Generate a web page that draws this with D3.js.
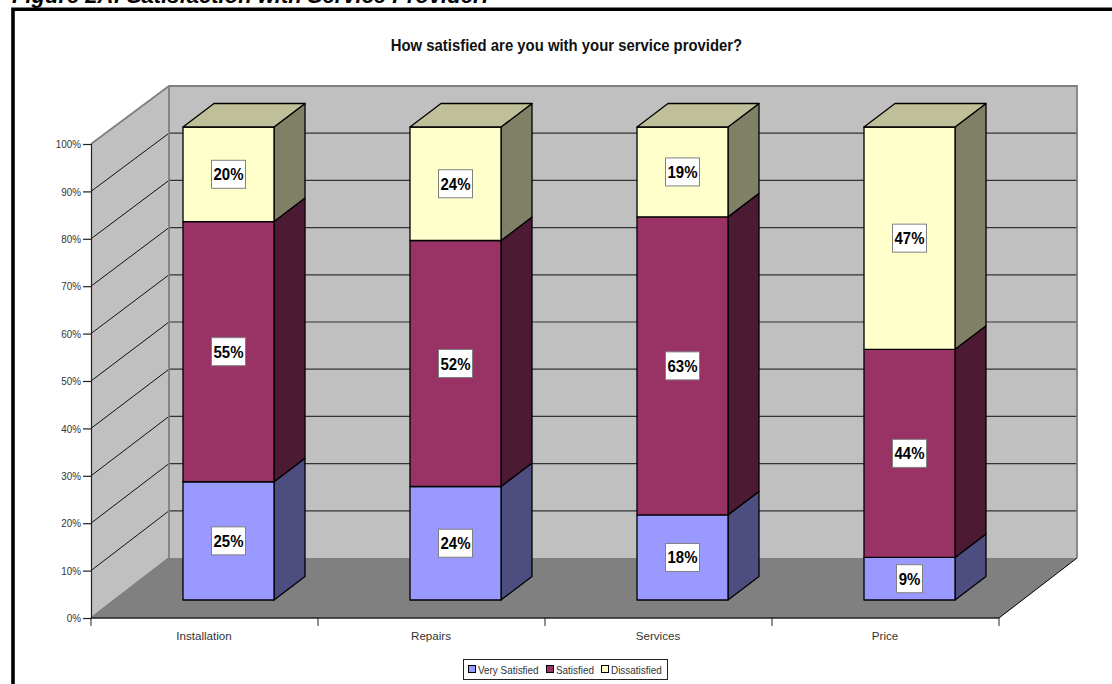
<!DOCTYPE html>
<html>
<head>
<meta charset="utf-8">
<script src="https://cdn.jsdelivr.net/npm/d3@7/dist/d3.min.js"></script>
<style>
html, body { margin: 0; padding: 0; background: #fff; overflow: hidden; }
svg { display: block; }
text { font-family: "Liberation Sans", Arial, sans-serif; }
</style>
</head>
<body>
<div id="chart"></div>
<script>
// Survey results, percent of respondents
const categories = ["Installation", "Repairs", "Services", "Price"];
const seriesNames = ["Very Satisfied", "Satisfied", "Dissatisfied"];
const verySatisfied = [25, 24, 18, 9];
const satisfied = [55, 52, 63, 44];
const dissatisfied = [20, 24, 19, 47];
const percentTicks = [0, 10, 20, 30, 40, 50, 60, 70, 80, 90, 100];

const frontColors = ["#9999ff", "#993366", "#ffffcc"];
const sideColors = ["#4d4d80", "#4d1a33", "#808066"];
const topColor = "#bfbf99";

const svg = d3.select("#chart").append("svg").attr("width", 1112).attr("height", 684);

// Narrows a text horizontally while keeping its height
function squeeze(selection, factor) {
  selection.each(function () {
    this.setAttribute("textLength", this.getComputedTextLength() * factor);
    this.setAttribute("lengthAdjust", "spacingAndGlyphs");
  });
}

// Figure caption above the frame, then the frame itself
svg.append("text").attr("x", 12).attr("y", 2.5)
  .attr("font-size", 22).attr("font-weight", "bold").attr("font-style", "italic")
  .text("Figure 2A: Satisfaction with Service Provider:");
svg.append("path").attr("d", "M13,684V9.2H1112").attr("fill", "none").attr("stroke", "#000").attr("stroke-width", 3.6);

svg.append("text").attr("x", 566.5).attr("y", 50.5).attr("text-anchor", "middle")
  .attr("font-size", 16).attr("font-weight", "bold").attr("fill", "#111")
  .text("How satisfied are you with your service provider?")
  .call(squeeze, 0.93);

// Oblique projection: front plane and back plane of the plot box
const plot = { left: 91, right: 999, bottom: 618, top: 144 };
const wall = { left: 169, right: 1077, bottom: 558, top: 86 };
const barDepth = { x: 31, y: -23.5 };
const barBaseline = 600;

const x = d3.scaleBand().domain(categories).range([plot.left, plot.right]);
const y = d3.scaleLinear().domain([0, 100]).range([plot.bottom, plot.top]);
const yBack = d3.scaleLinear().domain([0, 100]).range([wall.bottom, wall.top]);
const barHeight = d3.scaleLinear().domain([0, 100]).range([0, 473]);
const barWidth = 91;
const barOffset = 92;

const poly = pts => "M" + pts.map(p => p.join(",")).join("L") + "Z";

// Side wall, back wall, floor
const walls = svg.append("g");
walls.append("path")
  .attr("d", poly([[plot.left, y(0)], [plot.left, y(100)], [wall.left, yBack(100)], [wall.left, yBack(0)]]))
  .attr("fill", "#c0c0c0");
walls.append("path")
  .attr("d", poly([[wall.left, yBack(100)], [wall.right, yBack(100)], [wall.right, yBack(0)], [wall.left, yBack(0)]]))
  .attr("fill", "#c0c0c0");
walls.append("path")
  .attr("d", poly([[plot.left, y(0)], [plot.right, y(0)], [wall.right, yBack(0)], [wall.left, yBack(0)]]))
  .attr("fill", "#808080");

// Gridlines: thin black on the side wall, slightly heavier on the back wall
const gridTicks = percentTicks.filter(t => t > 0 && t < 100);
svg.append("g").selectAll("line").data(gridTicks).join("line")
  .attr("x1", plot.left).attr("y1", d => y(d)).attr("x2", wall.left).attr("y2", d => yBack(d))
  .attr("stroke", "#111").attr("stroke-width", 1);
svg.append("g").selectAll("line").data(gridTicks).join("line")
  .attr("x1", wall.left).attr("y1", d => yBack(d)).attr("x2", wall.right).attr("y2", d => yBack(d))
  .attr("stroke", "#333").attr("stroke-width", 1.2);

// Wall outlines
const edges = svg.append("g").attr("fill", "none").attr("stroke", "#808080").attr("stroke-width", 1.8);
edges.append("path").attr("d", `M${plot.left},${y(100)}L${wall.left},${yBack(100)}L${wall.right},${yBack(100)}L${wall.right},${yBack(0)}`);
edges.append("path").attr("d", `M${wall.left},${yBack(100)}L${wall.left},${yBack(0)}L${plot.left},${y(0)}`);
svg.append("line").attr("x1", wall.right).attr("y1", yBack(0)).attr("x2", plot.right).attr("y2", y(0))
  .attr("stroke", "#000").attr("stroke-width", 1);

// Axes
const yAxis = d3.axisLeft(y).tickValues(percentTicks).tickFormat(d => d + "%").tickSize(8).tickPadding(2);
const yG = svg.append("g").attr("transform", `translate(${plot.left},0)`).call(yAxis);
yG.select(".domain").attr("stroke", "#222").attr("stroke-width", 1.2);
yG.selectAll(".tick line").attr("stroke", "#222").attr("stroke-width", 1.2);
yG.selectAll("text").attr("font-size", 11.6).attr("fill", "#333").attr("font-family", "Liberation Sans")
  .call(squeeze, 0.85);

const xAxisLine = svg.append("g").attr("stroke", "#222");
xAxisLine.append("line").attr("x1", plot.left).attr("x2", plot.right)
  .attr("y1", y(0)).attr("y2", y(0)).attr("stroke-width", 1.6);
const boundaries = categories.map(c => x(c)).concat(plot.right);
xAxisLine.selectAll("line.tick").data(boundaries).join("line").attr("class", "tick")
  .attr("x1", d => d).attr("x2", d => d).attr("y1", y(0)).attr("y2", y(0) + 8).attr("stroke-width", 1);
svg.append("g").selectAll("text").data(categories).join("text")
  .attr("x", d => x(d) + x.bandwidth() / 2 - 0.5).attr("y", 640).attr("text-anchor", "middle")
  .attr("font-size", 11.6).attr("fill", "#333").text(d => d);

// Stacked bars with boxed value labels
const rows = categories.map((c, i) => ({ category: c, values: [verySatisfied[i], satisfied[i], dissatisfied[i]] }));
const barsG = svg.append("g").attr("stroke", "#000").attr("stroke-width", 1.3).attr("stroke-linejoin", "round");
const labelsG = svg.append("g");
rows.forEach(row => {
  const x0 = x(row.category) + barOffset, x1 = x0 + barWidth;
  let cum = 0;
  row.values.forEach((v, s) => {
    const yBot = barBaseline - barHeight(cum), yTop = barBaseline - barHeight(cum + v);
    cum += v;
    barsG.append("path").attr("fill", sideColors[s])
      .attr("d", poly([[x1, yBot], [x1, yTop], [x1 + barDepth.x, yTop + barDepth.y], [x1 + barDepth.x, yBot + barDepth.y]]));
    barsG.append("rect").attr("x", x0).attr("y", yTop).attr("width", barWidth).attr("height", yBot - yTop)
      .attr("fill", frontColors[s]);
    if (s === row.values.length - 1) {
      barsG.append("path").attr("fill", topColor)
        .attr("d", poly([[x0, yTop], [x1, yTop], [x1 + barDepth.x, yTop + barDepth.y], [x0 + barDepth.x, yTop + barDepth.y]]));
    }
    const cy = (yBot + yTop) / 2, cx = (x0 + x1) / 2;
    const w = v < 10 ? 26 : 34;
    labelsG.append("rect").attr("x", cx - w / 2).attr("y", cy - 14).attr("width", w).attr("height", 28)
      .attr("fill", "#fff").attr("stroke", "#808080").attr("stroke-width", 1);
    labelsG.append("text").attr("x", cx).attr("y", cy + 6).attr("text-anchor", "middle")
      .attr("font-size", 17).attr("font-weight", "bold").text(v + "%")
      .call(squeeze, 0.88);
  });
});

// Legend
const legend = svg.append("g");
legend.append("rect").attr("x", 463.5).attr("y", 659.5).attr("width", 204).attr("height", 20)
  .attr("fill", "#fff").attr("stroke", "#222").attr("stroke-width", 1);
const legendX = [468, 546, 601];
seriesNames.forEach((name, i) => {
  legend.append("rect").attr("x", legendX[i] + 0.5).attr("y", 665.5).attr("width", 7).attr("height", 7)
    .attr("fill", frontColors[i]).attr("stroke", "#000").attr("stroke-width", 1);
  legend.append("text").attr("x", legendX[i] + 10).attr("y", 673.5).attr("font-size", 11.4).attr("fill", "#333").text(name)
    .call(squeeze, 0.87);
});
</script>
</body>
</html>
